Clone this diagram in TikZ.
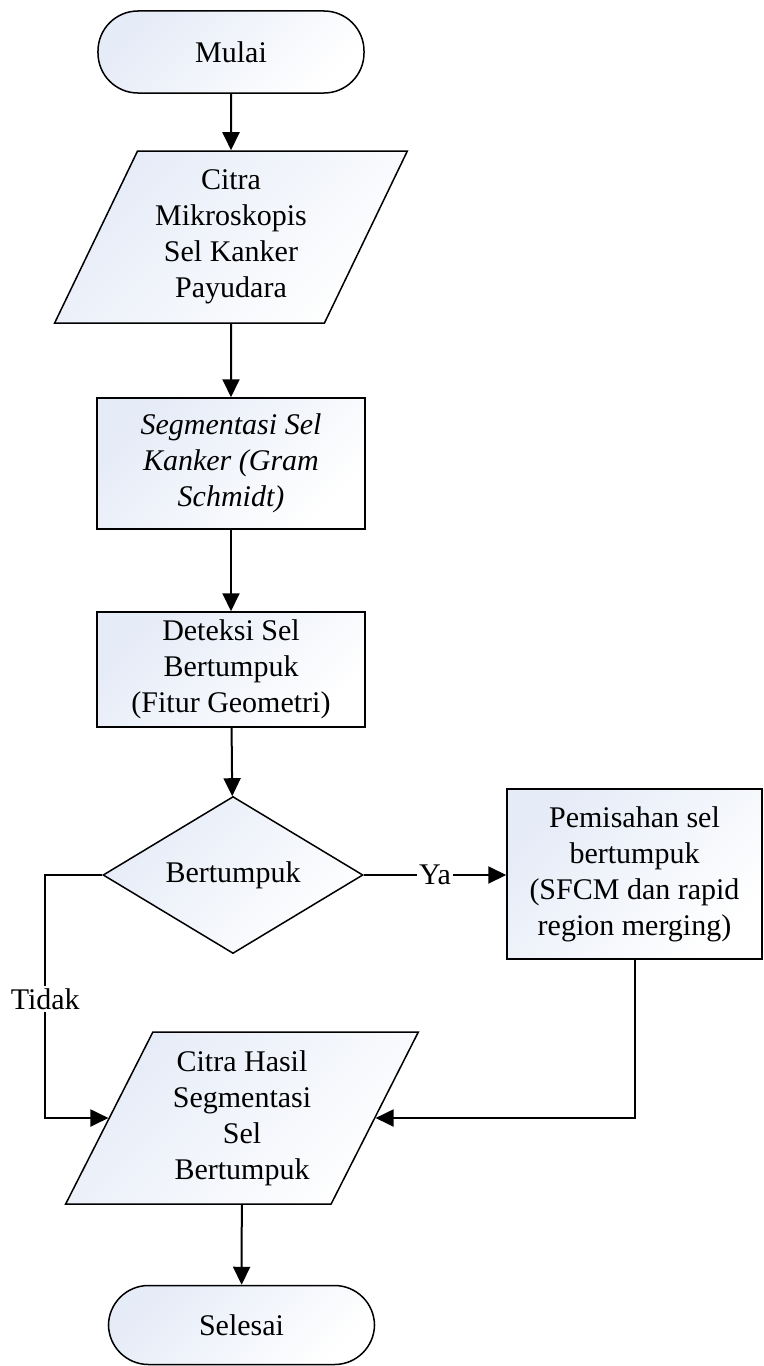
\documentclass[tikz,border=0pt]{standalone}
\usepackage{fontspec}
\setmainfont{Liberation Serif}
\usetikzlibrary{shapes.geometric,arrows.meta}
\definecolor{boxfill}{RGB}{229,235,247}

\begin{document}
\begin{tikzpicture}[x=0.4pt,y=-0.4pt,
  font=\fontsize{12}{14.4}\selectfont,
  every node/.style={align=center,inner sep=0pt},
  shaded/.style={draw,line width=0.6pt,left color=boxfill,right color=white,shading angle=45},
  term/.style={shaded,rectangle,rounded corners=16pt,minimum width=106.4pt,minimum height=32.8pt},
  io/.style={shaded,trapezium,trapezium left angle=63.4,trapezium right angle=116.6,
    trapezium stretches=true,minimum width=141.2pt,minimum height=68.8pt},
  proc/.style={shaded,rectangle,minimum width=107.2pt},
  decide/.style={shaded,diamond,aspect=1.66,minimum width=104pt,minimum height=62.8pt},
  arr/.style={-{Triangle[length=7.2pt,width=6.8pt]},line width=0.8pt},
  lbl/.style={fill=white,inner sep=1pt}]
\useasboundingbox (0,0) rectangle (763,1366);
\path node (mulai) at (231,52) [term] {Mulai}
      node (citra) at (231,237) [io] {Citra\\Mikroskopis\\Sel Kanker\\Payudara}
      node (segmen) at (231,463.5) [proc,minimum height=52.4pt,font=\fontsize{12}{14.4}\selectfont\itshape] {Segmentasi Sel\\Kanker (Gram\\Schmidt)}
      node (deteksi) at (231,669.5) [proc,minimum height=46pt] {Deteksi Sel\\Bertumpuk\\(Fitur Geometri)}
      node (cek) at (233,875) [decide] {Bertumpuk}
      node (pisah) at (634.5,874) [proc,minimum width=102pt,minimum height=68pt] {Pemisahan sel\\bertumpuk\\(SFCM dan rapid\\region merging)}
      node (hasil) at (242,1118) [io] {Citra Hasil\\Segmentasi\\Sel\\Bertumpuk}
      node (selesai) at (241.5,1325) [term,minimum height=31.6pt] {Selesai};
% alur utama
\draw [arr] (mulai) -- (citra);
\draw [arr] (citra) -- (segmen);
\draw [arr] (segmen) -- (deteksi);
\draw [arr] (deteksi) -- (cek);
\draw [arr] (cek.east) -- node [lbl] {Ya} (cek.east -| pisah.west);
\draw [arr] (cek.west) -- ++(-57,0) |- node [lbl,pos=0.255] {Tidak} (hasil.west);
\draw [arr] (pisah.south) |- (hasil.east);
\draw [arr] (hasil) -- (selesai);
\end{tikzpicture}
\end{document}
